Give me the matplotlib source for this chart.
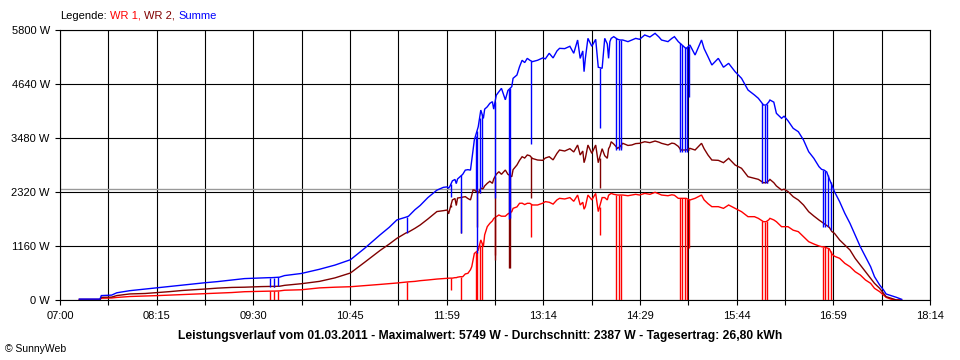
import matplotlib
matplotlib.use("Agg")
import matplotlib.pyplot as plt
import numpy as np

plt.rcParams['font.family'] = ['Liberation Sans', 'DejaVu Sans']

# ---------------- data ----------------
times = ["07:15", "07:31", "07:32", "07:40", "07:44", "07:54", "08:06", "08:16", "08:25", "08:35",
         "08:45", "08:52", "09:02", "09:13", "09:23", "09:36", "09:42", "09:43", "09:44", "09:46",
         "09:47", "09:49", "09:50", "09:54", "10:07", "10:21", "10:33", "10:45", "10:56", "11:08",
         "11:15", "11:21", "11:28", "11:29", "11:30", "11:35", "11:39", "11:45", "11:52", "11:57",
         "12:00", "12:01", "12:02", "12:03", "12:04", "12:06", "12:07", "12:08", "12:10", "12:11",
         "12:12", "12:14", "12:16", "12:18", "12:19", "12:20", "12:21", "12:22", "12:23", "12:24",
         "12:25", "12:26", "12:27", "12:28", "12:29", "12:31", "12:33", "12:35", "12:36", "12:37",
         "12:38", "12:40", "12:42", "12:45", "12:47", "12:48", "12:49", "12:50", "12:51", "12:54",
         "12:56", "12:58", "13:00", "13:02", "13:04", "13:05", "13:06", "13:10", "13:14", "13:16",
         "13:19", "13:22", "13:25", "13:27", "13:31", "13:35", "13:38", "13:41", "13:43", "13:45",
         "13:46", "13:47", "13:49", "13:52", "13:55", "13:57", "13:58", "14:00", "14:02", "14:04",
         "14:05", "14:06", "14:07", "14:09", "14:11", "14:12", "14:13", "14:14", "14:15", "14:16",
         "14:20", "14:23", "14:26", "14:29", "14:33", "14:37", "14:41", "14:44", "14:46", "14:51",
         "14:54", "14:56", "14:59", "15:00", "15:01", "15:02", "15:03", "15:04", "15:05", "15:06",
         "15:07", "15:08", "15:12", "15:17", "15:19", "15:22", "15:25", "15:30", "15:34", "15:38",
         "15:43", "15:48", "15:53", "15:58", "16:01", "16:04", "16:05", "16:06", "16:07", "16:08",
         "16:09", "16:10", "16:13", "16:15", "16:19", "16:21", "16:24", "16:28", "16:32", "16:36",
         "16:40", "16:44", "16:48", "16:50", "16:51", "16:52", "16:53", "16:54", "16:55", "16:56",
         "16:57", "16:58", "17:00", "17:04", "17:08", "17:12", "17:16", "17:20", "17:24", "17:28",
         "17:31", "17:35", "17:38", "17:40", "17:44", "17:48", "17:52"]

wr1 = [10, 10, 38, 43, 55, 75, 85, 95, 105, 118,
       128, 135, 145, 160, 178, 187, 190, 0, 190, 0,
       192, 0, 195, 210, 220, 260, 275, 285, 310, 335,
       350, 365, 385, 0, 390, 400, 415, 430, 450, 460,
       466, 466, 470, 220, 470, 480, 480, 490, 500, 0,
       500, 560, 573, 650, 716, 860, 1000, 0, 0, 1070,
       0, 1290, 0, 1150, 1400, 1575, 1647, 1700, 1750, 970,
       1790, 1826, 1800, 1800, 1850, 1850, 1870, 1897, 1969, 2000,
       2077, 2080, 2050, 2077, 2077, 1360, 2041, 2041, 2080, 2113,
       2100, 2060, 2150, 2184, 2170, 2200, 2120, 2255, 2041, 2100,
       1950, 2005, 2255, 2150, 2290, 1900, 1396, 2200, 2200, 2150,
       2250, 2270, 2290, 2270, 0, 2255, 0, 2255, 0, 2255,
       2240, 2255, 2270, 2255, 2290, 2270, 2313, 2280, 2255, 2240,
       2260, 2250, 2184, 0, 2184, 0, 2184, 0, 2184, 0,
       1110, 2148, 2184, 2255, 2150, 2070, 2005, 2005, 1969, 2041,
       1969, 1897, 1790, 1790, 1754, 0, 1682, 0, 1682, 0,
       1720, 1754, 1720, 1682, 1575, 1575, 1575, 1500, 1468, 1360,
       1253, 1203, 1160, 1145, 0, 1140, 0, 1120, 0, 1100,
       0, 988, 940, 895, 788, 716, 608, 537, 430, 358,
       251, 179, 107, 57, 15, 0, 0]

wr2 = [10, 10, 57, 62, 95, 130, 140, 160, 180, 205,
       222, 235, 255, 270, 275, 288, 290, 290, 290, 290,
       292, 292, 295, 315, 350, 400, 475, 580, 810, 1065,
       1200, 1325, 1440, 1450, 1460, 1540, 1611, 1740, 1900, 1919,
       1933, 1850, 1950, 2000, 2150, 2180, 2030, 2190, 2200, 1430,
       2210, 2220, 2180, 2150, 2250, 2363, 2360, 2360, 1575, 2300,
       2300, 2400, 2380, 2400, 2450, 2506, 2550, 2506, 2600, 870,
       2700, 2756, 2700, 2792, 2700, 680, 690, 2649, 2800, 2900,
       3000, 3078, 3050, 3115, 3100, 2184, 3040, 3007, 3000, 3050,
       3078, 3010, 3150, 3222, 3200, 3250, 3180, 3329, 3115, 3200,
       2950, 3044, 3329, 3150, 3329, 2950, 2400, 3250, 3100, 3044,
       3250, 3300, 3400, 3350, 3258, 3258, 3258, 3300, 3258, 3366,
       3320, 3330, 3360, 3366, 3400, 3380, 3415, 3390, 3366, 3330,
       3370, 3360, 3300, 3222, 3222, 3222, 3222, 3222, 3222, 3222,
       3222, 3258, 3222, 3366, 3250, 3115, 3007, 3000, 2950, 3044,
       2900, 2829, 2649, 2614, 2592, 2520, 2520, 2520, 2520, 2520,
       2560, 2590, 2520, 2450, 2363, 2380, 2330, 2219, 2148, 2041,
       1897, 1804, 1718, 1680, 1660, 1640, 1620, 1600, 1580, 1560,
       1530, 1470, 1432, 1289, 1181, 1074, 895, 752, 608, 466,
       358, 251, 143, 72, 36, 0, 0]

summe = [20, 20, 95, 105, 155, 200, 235, 265, 290, 320,
         350, 370, 395, 430, 460, 475, 480, 290, 480, 290,
         485, 292, 490, 525, 570, 660, 750, 865, 1110, 1400,
         1560, 1720, 1780, 1450, 1800, 1940, 2030, 2200, 2360, 2420,
         2430, 2400, 2440, 2220, 2560, 2590, 2500, 2600, 2650, 1430,
         2700, 2790, 2800, 2790, 3000, 3220, 3440, 2360, 1000, 3720,
         2300, 4080, 2430, 3900, 4100, 4150, 4225, 4260, 4100, 2200,
         4400, 4475, 4547, 4300, 4500, 1750, 1760, 4583, 4762, 4833,
         5012, 5150, 5100, 5191, 5150, 3350, 5120, 5150, 5200, 5180,
         5300, 5200, 5350, 5406, 5400, 5450, 5300, 5585, 5190, 5350,
         4905, 5191, 5621, 5450, 5600, 5000, 3690, 4977, 5621, 5500,
         5191, 5550, 5620, 5657, 3222, 5600, 3222, 5585, 3222, 5585,
         5550, 5585, 5620, 5600, 5693, 5650, 5728, 5650, 5585, 5550,
         5620, 5657, 5550, 3186, 5500, 3186, 5450, 3186, 5400, 3186,
         4368, 5478, 5263, 5585, 5400, 5227, 5048, 5191, 5000, 5084,
         4905, 4762, 4511, 4404, 4333, 2506, 4189, 2506, 4189, 2506,
         4250, 4296, 4250, 4010, 3903, 3950, 3850, 3688, 3615, 3437,
         3186, 3044, 2864, 2807, 1575, 2790, 1575, 2750, 1575, 2600,
         1500, 2470, 2327, 2112, 1862, 1647, 1396, 1145, 930, 716,
         501, 322, 215, 129, 93, 57, 15]

# short single-sample dropouts (drawn as thin vertical spikes)
drop_times = ["09:43", "09:46", "09:49", "11:29", "12:03", "12:11", "12:22", "12:23",
              "12:25", "12:27", "12:37", "12:48", "12:49", "13:05", "13:58", "14:11",
              "14:13", "14:15", "15:00", "15:02", "15:04", "15:06", "15:07", "16:04",
              "16:06", "16:08", "16:51", "16:53", "16:55", "16:57"]

avg_w = 2387
y_ticks = [0, 1160, 2320, 3480, 4640, 5800]
x_labels = ["07:00", "08:15", "09:30", "10:45", "11:59", "13:14", "14:29", "15:44", "16:59", "18:14"]
x_start, x_end = "07:00", "18:14"

title = ("Leistungsverlauf vom 01.03.2011 - Maximalwert: 5749 W - "
         "Durchschnitt: 2387 W - Tagesertrag: 26,80 kWh")
legend_parts = [("Legende:", "#000000"), ("WR 1,", "#ff0000"),
                ("WR 2,", "#800000"), ("Summe", "#0000ff")]


def to_min(s):
    h, m = s.split(":")
    return int(h) * 60 + int(m)


t = np.array([to_min(s) for s in times], dtype=float)
is_drop = np.isin(times, drop_times)
t0, t1 = to_min(x_start), to_min(x_end)

W, H = 960, 360
fig = plt.figure(figsize=(W / 100, H / 100), dpi=100)
fig.patch.set_facecolor("white")
ax = fig.add_axes([60 / W, 60 / H, 870 / W, 270 / H])

ax.set_xlim(t0, t1)
ax.set_ylim(0, 5800)

xt = np.linspace(t0, t1, 2 * len(x_labels) - 1)
ax.set_xticks(xt)
ax.set_xticklabels([x_labels[i // 2] if i % 2 == 0 else "" for i in range(len(xt))])
ax.set_yticks(y_ticks)
ax.set_yticklabels([f"{v} W" for v in y_ticks])

ax.grid(True, color="black", lw=0.8, zorder=1)
ax.set_axisbelow(True)
ax.axhline(avg_w, color="#999999", lw=1.0, zorder=1.5)


def draw_series(vals, color, z):
    v = np.asarray(vals, dtype=float)
    base_t, base_v = t[~is_drop], v[~is_drop]
    ax.plot(base_t, base_v, color=color, lw=1.0, zorder=z,
            solid_joinstyle="miter")
    dt = t[is_drop]
    top = np.interp(dt, base_t, base_v)
    ax.vlines(dt, v[is_drop], top, color=color, lw=1.0, zorder=z)


draw_series(wr1, "#ff0000", 3)
draw_series(wr2, "#800000", 4)
draw_series(summe, "#0000ff", 5)

for s in ax.spines.values():
    s.set_color("black")
    s.set_linewidth(0.8)
ax.tick_params(axis="both", direction="out", length=3.8, width=0.8,
               colors="black", labelsize=8)
ax.tick_params(axis="x", pad=4)
ax.tick_params(axis="y", pad=3.5)

fig.text(0.5, 1 - 336 / H, title, ha="center", va="center",
         fontsize=8.7, fontweight="bold")
fig.text(5 / W, 1 - 349 / H, "\u00a9 SunnyWeb", ha="left", va="center", fontsize=7.5)

renderer = fig.canvas.get_renderer()
xpos = 60.0
for txt, col in legend_parts:
    tt = fig.text(xpos / W, 1 - 16 / H, txt, color=col, fontsize=8,
                  ha="left", va="center")
    bb = tt.get_window_extent(renderer)
    xpos += bb.width + 3.4

fig.savefig("out.png", dpi=100, facecolor="white")
